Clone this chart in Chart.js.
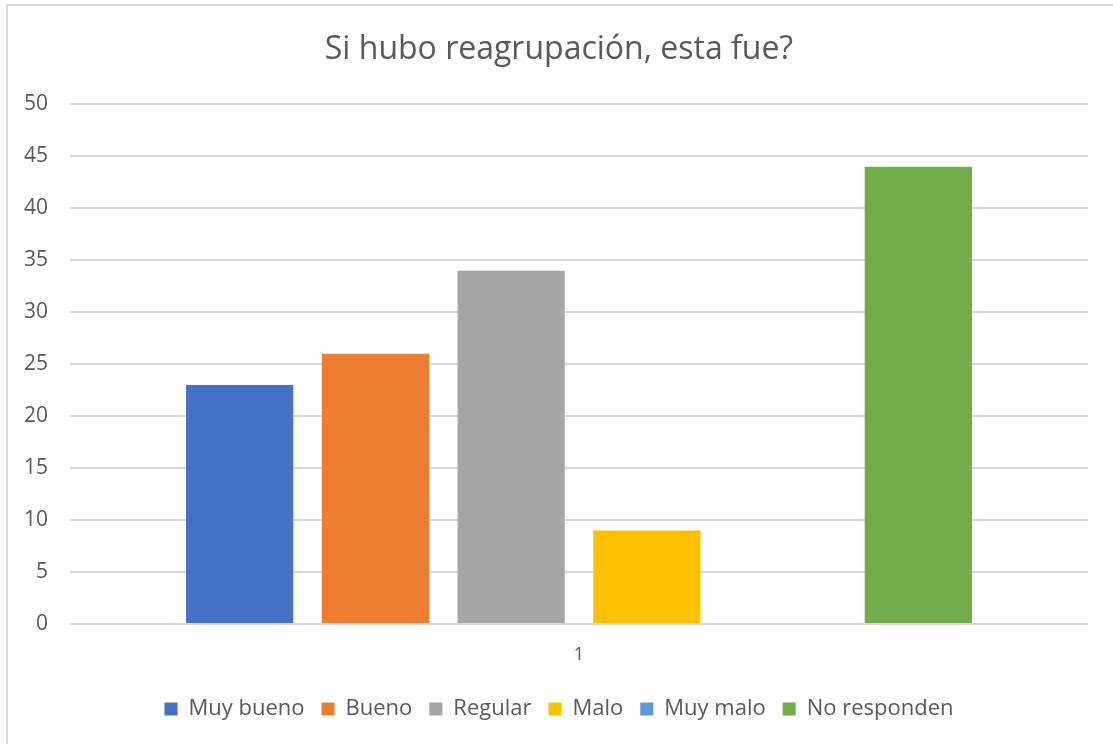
<!DOCTYPE html>
<html>
<head>
<meta charset="utf-8">
<script src="https://cdn.jsdelivr.net/npm/chart.js@4/dist/chart.umd.min.js"></script>
<style>
  html, body { margin: 0; padding: 0; background: #fff; }
  #wrap { width: 1113px; height: 744px; position: relative; }
</style>
</head>
<body>
<div id="wrap"><canvas id="c" width="1113" height="744"></canvas></div>
<script>
const titleText = "Si hubo reagrupación, esta fue?";
const categories = ["1"];
const seriesNames = ["Muy bueno", "Bueno", "Regular", "Malo", "Muy malo", "No responden"];
const seriesValues = [23, 26, 34, 9, 0, 44];
const seriesColors = ["#4472C4", "#ED7D31", "#A5A5A5", "#FFC000", "#5B9BD5", "#70AD47"];
const yTicks = [0, 5, 10, 15, 20, 25, 30, 35, 40, 45, 50];

const FONT = "'Open Sans', sans-serif";
const TXT = "#595959";

const frame = {
  id: 'frame',
  beforeDraw(chart) {
    const ctx = chart.ctx;
    ctx.save();
    ctx.fillStyle = '#fff';
    ctx.fillRect(0, 0, chart.width, chart.height);
    ctx.strokeStyle = '#d9d9d9';
    ctx.lineWidth = 2;
    ctx.strokeRect(7, 5, 1130, 780);
    ctx.restore();
  }
};

new Chart(document.getElementById('c'), {
  type: 'bar',
  data: {
    labels: categories,
    datasets: seriesNames.map((n, i) => ({
      label: n,
      data: [seriesValues[i]],
      backgroundColor: seriesColors[i],
      borderWidth: 0,
      categoryPercentage: 0.8,
      barPercentage: 0.79
    }))
  },
  options: {
    responsive: false,
    animation: false,
    devicePixelRatio: 1,
    layout: { padding: { top: 0, left: 5, right: 0, bottom: 14 } },
    plugins: {
      title: {
        display: true,
        text: titleText,
        color: TXT,
        font: { family: FONT, size: 32, weight: 'normal' },
        padding: { top: 31, bottom: 35 }
      },
      legend: {
        position: 'bottom',
        labels: {
          color: TXT,
          font: { family: FONT, size: 22 },
          boxWidth: 13,
          boxHeight: 13,
          padding: 17
        }
      },
      tooltip: { enabled: false }
    },
    scales: {
      x: {
        grid: { display: false },
        border: { display: false },
        ticks: { color: TXT, font: { family: FONT, size: 19 }, padding: 11 },
        afterFit(s) { s.height = 57; }
      },
      y: {
        min: 0, max: 50,
        afterBuildTicks(s) { s.ticks = yTicks.map(v => ({ value: v })); },
        grid: { color: '#d9d9d9', lineWidth: 2, drawTicks: false },
        border: { display: false },
        ticks: { color: TXT, font: { family: FONT, size: 21 }, padding: 22 },
        afterFit(s) { s.width = 65; }
      },
      yRight: {
        position: 'right',
        display: true,
        grid: { display: false, drawTicks: false },
        border: { display: false },
        ticks: { display: false },
        afterFit(s) { s.width = 25; }
      }
    }
  },
  plugins: [frame]
});
</script>
</body>
</html>
